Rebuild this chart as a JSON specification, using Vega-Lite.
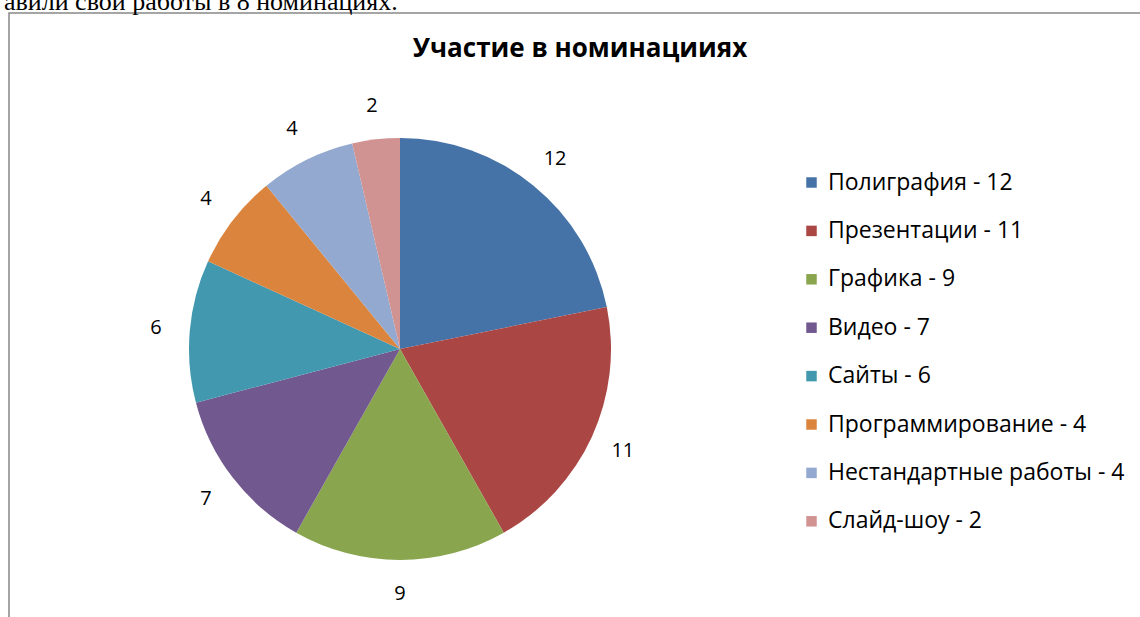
{
  "$schema": "https://vega.github.io/schema/vega-lite/v6.json",
  "autosize": "none",
  "width": 1134,
  "height": 607,
  "padding": {"left": 9, "top": 13, "right": -3, "bottom": -3},
  "background": "white",
  "view": {"stroke": "#888888", "strokeWidth": 1.5, "fill": null},
  "config": {
    "view": {"stroke": "#888888", "strokeWidth": 1.5},
    "font": "Open Sans"
  },
  "title": {
    "text": "Участие в номинацииях",
    "anchor": "middle",
    "frame": "group",
    "orient": "top",
    "offset": -46,
    "dy": 48,
    "baseline": "alphabetic",
    "dx": 4,
    "font": "Open Sans",
    "fontSize": 26,
    "fontWeight": "bold",
    "color": "#000000"
  },
  "data": {
    "values": [
      {"n": 1, "name": "Полиграфия", "label": "Полиграфия - 12", "v": 12},
      {"n": 2, "name": "Презентации", "label": "Презентации - 11", "v": 11},
      {"n": 3, "name": "Графика", "label": "Графика - 9", "v": 9},
      {"n": 4, "name": "Видео", "label": "Видео - 7", "v": 7},
      {"n": 5, "name": "Сайты", "label": "Сайты - 6", "v": 6},
      {"n": 6, "name": "Программирование", "label": "Программирование - 4", "v": 4},
      {"n": 7, "name": "Нестандартные работы", "label": "Нестандартные работы - 4", "v": 4},
      {"n": 8, "name": "Слайд-шоу", "label": "Слайд-шоу - 2", "v": 2}
    ]
  },
  "layer": [
    {
      "mark": {"type": "arc", "x": 391, "y": 336, "outerRadius": 211, "stroke": null},
      "encoding": {
        "theta": {"field": "v", "type": "quantitative", "stack": true},
        "order": {"field": "n", "type": "quantitative"},
        "color": {
          "field": "label",
          "type": "nominal",
          "scale": {
            "domain": ["Полиграфия - 12", "Презентации - 11", "Графика - 9", "Видео - 7", "Сайты - 6", "Программирование - 4", "Нестандартные работы - 4", "Слайд-шоу - 2"],
            "range": ["#4572A7", "#AA4643", "#89A54E", "#71588F", "#4198AF", "#DB843D", "#93A9CF", "#D19392"]
          },
          "legend": {
            "orient": "none",
            "legendX": 791,
            "legendY": 158,
            "title": null,
            "symbolType": "square",
            "symbolSize": 110,
            "symbolStrokeWidth": 0,
            "labelFont": "Open Sans",
            "labelFontSize": 23,
            "labelColor": "#000000",
            "labelOffset": 5,
            "rowPadding": 24.4,
            "padding": 0,
            "labelLimit": 400
          }
        }
      }
    },
    {
      "mark": {"type": "text", "x": 391, "y": 336, "radius": 245, "fontSize": 20, "font": "Open Sans", "color": "#000000"},
      "encoding": {
        "theta": {"field": "v", "type": "quantitative", "stack": true},
        "order": {"field": "n", "type": "quantitative"},
        "text": {"field": "v", "type": "quantitative"}
      }
    },
    {
      "data": {"values": [{"t": "авили свои работы в 8 номинациях."}]},
      "mark": {"type": "text", "x": -5, "y": -3, "align": "left", "baseline": "alphabetic", "font": "Liberation Serif", "fontSize": 26, "color": "#000000"},
      "encoding": {"text": {"field": "t", "type": "nominal"}}
    }
  ]
}
